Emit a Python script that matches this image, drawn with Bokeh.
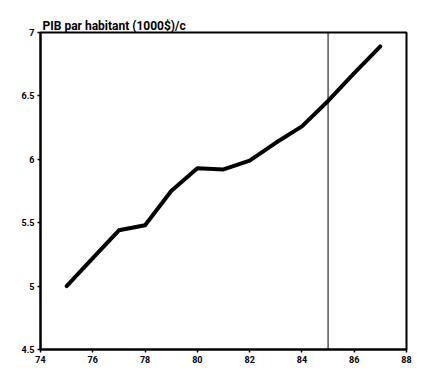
from bokeh.plotting import figure
from bokeh.models import Span, FixedTicker, Range1d
from bokeh.embed import file_html
from bokeh.resources import INLINE

years = [75, 76, 77, 78, 79, 80, 81, 82, 83, 84, 85, 86, 87]
pib = [5.00, 5.22, 5.44, 5.48, 5.75, 5.93, 5.92, 5.99, 6.13, 6.26, 6.46, 6.68, 6.89]
x_ticks = [74, 76, 78, 80, 82, 84, 86, 88]
y_ticks = [4.5, 5, 5.5, 6, 6.5, 7]
y_labels = {4.5: "4.5", 5: "5", 5.5: "5.5", 6: "6", 6.5: "6.5", 7: "7"}
marker_year = 85
title_text = "PIB par habitant (1000$)/c"

p = figure(width=413, height=373, output_backend="svg", toolbar_location=None,
           x_range=Range1d(74, 88), y_range=Range1d(4.5, 7),
           min_border_left=40, min_border_right=7, min_border_top=32, min_border_bottom=24)

p.title.text = title_text
p.title.align = "left"
p.title.offset = 2
p.title.text_font = "Roboto"
p.title.text_font_size = "12px"
p.title.text_font_style = "bold"
p.title.text_color = "black"
p.title.standoff = 0

p.grid.visible = False
p.outline_line_color = "black"
p.outline_line_width = 2

for ax in (p.xaxis[0], p.yaxis[0]):
    ax.axis_line_width = 2
    ax.major_tick_line_width = 1.5
    ax.major_tick_out = 3
    ax.major_tick_in = 0
    ax.minor_tick_line_color = None
    ax.major_label_text_font = "Roboto"
    ax.major_label_text_font_size = "9px"
    ax.major_label_text_font_style = "bold"
    ax.major_label_text_color = "black"
    ax.major_label_standoff = 3

p.xaxis.ticker = FixedTicker(ticks=x_ticks)
p.yaxis.ticker = FixedTicker(ticks=y_ticks)
p.yaxis.major_label_overrides = y_labels

p.line(years, pib, line_color="black", line_width=4, line_cap="round", line_join="round")

p.add_layout(Span(location=marker_year, dimension="height", line_color="black", line_width=1))

open("out.html", "w").write(file_html(p, INLINE))
